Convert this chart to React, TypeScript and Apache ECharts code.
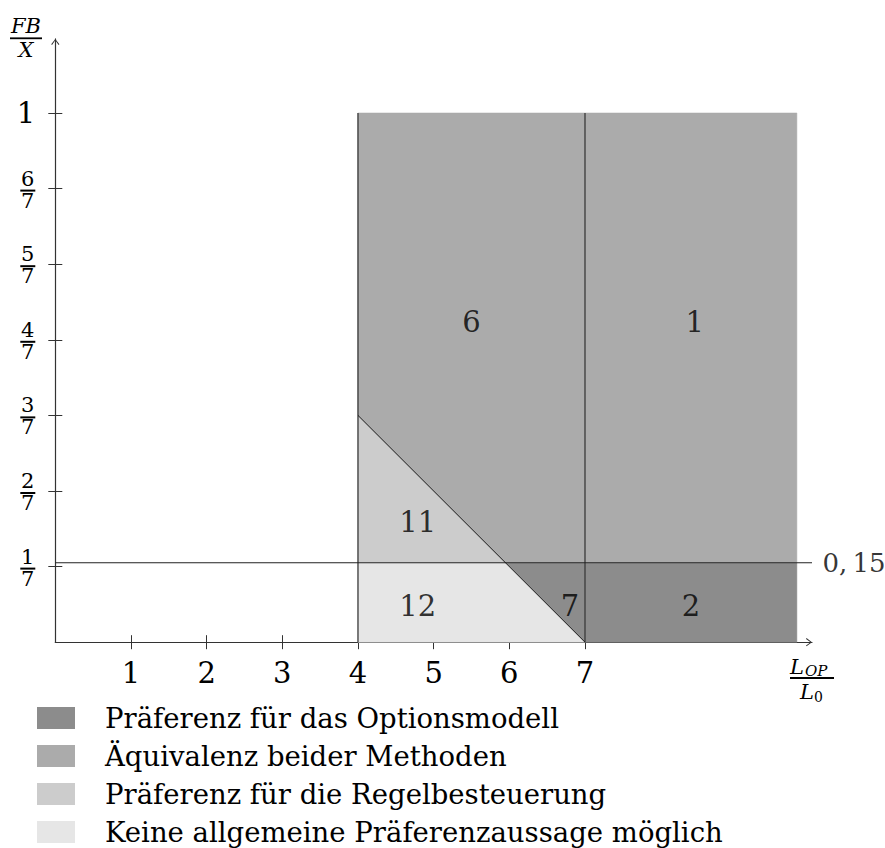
import React, { useEffect, useRef } from 'react';
import * as echarts from 'echarts';

const FONT = '"DejaVu Serif", "Liberation Serif", serif';

// Axis ranges and ticks
const X_MAX = 10;
const Y_MAX = 1.14;
const X_TICKS = [1, 2, 3, 4, 5, 6, 7];
const X_TICK_LABELS = ['1', '2', '3', '4', '5', '6', '7'];
const Y_TICKS = [1 / 7, 2 / 7, 3 / 7, 4 / 7, 5 / 7, 6 / 7, 1];
const Y_TICK_LABELS = ['1/7', '2/7', '3/7', '4/7', '5/7', '6/7', '1'];

// Legend / series names
const LEGEND_NAMES = [
  'Präferenz für das Optionsmodell',
  'Äquivalenz beider Methoden',
  'Präferenz für die Regelbesteuerung',
  'Keine allgemeine Präferenzaussage möglich',
];

// Region polygons (x = L_OP/L_0, y = FB/X)
const REGION_OPTIONSMODELL = [[5.95, 0.15], [9.8, 0.15], [9.8, 0], [7, 0]];
const REGION_AEQUIVALENZ = [[4, 3 / 7], [4, 1], [9.8, 1], [9.8, 0.15], [5.95, 0.15]];
const REGION_REGEL = [[4, 0.15], [4, 3 / 7], [5.95, 0.15]];
const REGION_KEINE = [[4, 0], [4, 0.15], [5.95, 0.15], [7, 0]];

// Boundary lines
const LINE_X4 = [[4, 0], [4, 1]];
const LINE_X7 = [[7, 0], [7, 1]];
const LINE_H015 = [[0, 0.15], [10, 0.15]];
const LINE_DIAG = [[4, 3 / 7], [7, 0]];
const H_LINE_LABEL = '0,\u200915';

// Region number labels
const REGION_LABEL_POS = [[5.5, 0.605], [8.45, 0.605], [4.79, 0.227], [4.79, 0.069], [6.8, 0.069], [8.4, 0.069]];
const REGION_LABEL_TEXT = ['6', '1', '11', '12', '7', '2'];

const ARROW = 'path://M0,0L4.5,6L3.6,6.6L0,1.6L-3.6,6.6L-4.5,6Z';
const AXIS_COLOR = '#333';

function regionSeries(name: string, verts: number[][], color: string) {
  return {
    type: 'custom',
    name,
    data: verts,
    encode: { x: 0, y: 1 },
    itemStyle: { color },
    silent: true,
    z: 1,
    renderItem: (params: any, api: any) => {
      if (params.dataIndex !== 0) return null;
      return {
        type: 'polygon',
        shape: { points: verts.map((v) => api.coord(v)) },
        style: { fill: color, stroke: color, lineWidth: 0.5 },
      };
    },
  };
}

function lineSeries(data: number[][], width: number, color: string) {
  return {
    type: 'line',
    data,
    symbol: 'none',
    silent: true,
    z: 3,
    lineStyle: { color, width },
  };
}

function yLabel(v: number) {
  let idx = 0;
  let best = Infinity;
  Y_TICKS.forEach((t, i) => {
    const d = Math.abs(t - v);
    if (d < best) { best = d; idx = i; }
  });
  const lab = Y_TICK_LABELS[idx];
  if (lab.indexOf('/') < 0) return `{w|${lab}}`;
  const [n, d] = lab.split('/');
  return `{n|${n}}\n{b| }\n{d|${d}}`;
}

function xLabel(v: number) {
  const i = X_TICKS.findIndex((t) => Math.abs(t - v) < 1e-6);
  return i >= 0 ? X_TICK_LABELS[i] : '';
}

export default function App() {
  const ref = useRef<HTMLDivElement>(null);
  useEffect(() => {
    if (!ref.current) return;
    const chart = echarts.init(ref.current, null, { renderer: 'svg' });
    const tickStyle = { color: AXIS_COLOR, width: 1 };
    const option: any = {
      animation: false,
      backgroundColor: '#fff',
      textStyle: { fontFamily: FONT },
      grid: {
        left: 55.3,
        top: 38.9,
        width: 756.7,
        height: 603.3,
        containLabel: false,
        outerBoundsMode: 'none',
      },
      legend: {
        orient: 'vertical',
        left: 37,
        top: 703.5,
        padding: 0,
        itemWidth: 38,
        itemHeight: 22,
        itemGap: 9,
        selectedMode: false,
        icon: 'rect',
        data: LEGEND_NAMES.map((name) => ({ name, icon: 'rect' })),
        formatter: (name: string) => `{s| }${name}`,
        textStyle: {
          fontFamily: FONT,
          fontSize: 27.5,
          lineHeight: 29,
          color: '#000',
          rich: { s: { width: 25 } },
        },
      },
      xAxis: [
        {
          type: 'value',
          position: 'bottom',
          min: 0,
          max: X_MAX,
          interval: 1,
          axisLine: {
            show: true,
            onZero: false,
            symbol: ['none', ARROW],
            symbolSize: [9, 6],
            symbolOffset: [0, -3],
            lineStyle: { color: AXIS_COLOR, width: 1.2 },
          },
          axisTick: { show: true, inside: false, length: 7, customValues: X_TICKS, lineStyle: tickStyle },
          axisLabel: {
            customValues: X_TICKS,
            formatter: xLabel,
            fontFamily: FONT,
            fontSize: 29,
            color: '#000',
            margin: 16,
          },
          splitLine: { show: false },
        },
        {
          type: 'value',
          position: 'bottom',
          min: 0,
          max: X_MAX,
          interval: 1,
          axisLine: { show: false, onZero: false },
          axisTick: { show: true, inside: true, length: 7, customValues: X_TICKS, lineStyle: tickStyle },
          axisLabel: { show: false },
          splitLine: { show: false },
        },
      ],
      yAxis: [
        {
          type: 'value',
          position: 'left',
          min: 0,
          max: Y_MAX,
          interval: 1 / 7,
          axisLine: {
            show: true,
            onZero: false,
            symbol: ['none', ARROW],
            symbolSize: [9, 6],
            symbolOffset: [0, -3],
            lineStyle: { color: AXIS_COLOR, width: 1.2 },
          },
          axisTick: { show: true, inside: false, length: 7, customValues: Y_TICKS, lineStyle: tickStyle },
          axisLabel: {
            customValues: Y_TICKS,
            formatter: yLabel,
            fontFamily: FONT,
            color: '#000',
            margin: 20,
            rich: {
              w: { fontSize: 29, fontFamily: FONT, color: '#000' },
              n: { fontSize: 21, fontFamily: FONT, color: '#000', lineHeight: 20, width: 15, align: 'center' },
              b: { width: 15, height: 2, lineHeight: 4, backgroundColor: '#000' },
              d: { fontSize: 21, fontFamily: FONT, color: '#000', lineHeight: 16, width: 15, align: 'center' },
            },
          },
          splitLine: { show: false },
        },
        {
          type: 'value',
          position: 'left',
          min: 0,
          max: Y_MAX,
          interval: 1 / 7,
          axisLine: { show: false, onZero: false },
          axisTick: { show: true, inside: true, length: 7, customValues: Y_TICKS, lineStyle: tickStyle },
          axisLabel: { show: false },
          splitLine: { show: false },
        },
      ],
      graphic: [
        { type: 'text', x: 26, y: 25.5, style: { text: 'FB', fontFamily: FONT, fontStyle: 'italic', fontSize: 21, fill: '#000', align: 'center', verticalAlign: 'middle' } },
        { type: 'line', shape: { x1: 10, y1: 38.3, x2: 42, y2: 38.3 }, style: { stroke: '#000', lineWidth: 1.8 } },
        { type: 'text', x: 26, y: 50, style: { text: 'X', fontFamily: FONT, fontStyle: 'italic', fontSize: 21, fill: '#000', align: 'center', verticalAlign: 'middle' } },
        { type: 'text', x: 790, y: 667, style: { text: 'L', fontFamily: FONT, fontStyle: 'italic', fontSize: 21, fill: '#000', align: 'left', verticalAlign: 'middle' } },
        { type: 'text', x: 805, y: 671, style: { text: 'OP', fontFamily: FONT, fontStyle: 'italic', fontSize: 15, fill: '#000', align: 'left', verticalAlign: 'middle' } },
        { type: 'line', shape: { x1: 790, y1: 678, x2: 834, y2: 678 }, style: { stroke: '#000', lineWidth: 1.8 } },
        { type: 'text', x: 800, y: 692, style: { text: 'L', fontFamily: FONT, fontStyle: 'italic', fontSize: 21, fill: '#000', align: 'left', verticalAlign: 'middle' } },
        { type: 'text', x: 814, y: 697, style: { text: '0', fontFamily: FONT, fontSize: 14, fill: '#000', align: 'left', verticalAlign: 'middle' } },
      ],
      series: [
        regionSeries(LEGEND_NAMES[0], REGION_OPTIONSMODELL, '#8c8c8c'),
        regionSeries(LEGEND_NAMES[1], REGION_AEQUIVALENZ, '#ababab'),
        regionSeries(LEGEND_NAMES[2], REGION_REGEL, '#cccccc'),
        regionSeries(LEGEND_NAMES[3], REGION_KEINE, '#e6e6e6'),
        lineSeries(LINE_X4, 1.3, '#3a3a3a'),
        lineSeries(LINE_X7, 1.3, '#3a3a3a'),
        lineSeries(LINE_H015, 1.1, '#222'),
        lineSeries(LINE_DIAG, 1, '#111'),
        {
          type: 'scatter',
          silent: true,
          z: 4,
          symbolSize: 1,
          itemStyle: { color: 'rgba(0,0,0,0)' },
          data: REGION_LABEL_POS.map((p, i) => ({
            value: p,
            label: { formatter: REGION_LABEL_TEXT[i] },
          })),
          label: { show: true, position: 'inside', fontFamily: FONT, fontSize: 29, color: '#000' },
        },
        {
          type: 'scatter',
          silent: true,
          z: 4,
          symbolSize: 1,
          itemStyle: { color: 'rgba(0,0,0,0)' },
          data: [LINE_H015[1]],
          label: { show: true, position: 'right', distance: 10, formatter: H_LINE_LABEL, fontFamily: FONT, fontSize: 26, color: '#000' },
        },
      ],
    };
    chart.setOption(option);
    return () => chart.dispose();
  }, []);
  return (
    <div
      ref={ref}
      style={{ position: 'absolute', left: 0, top: 0, width: 885, height: 848 }}
    />
  );
}
